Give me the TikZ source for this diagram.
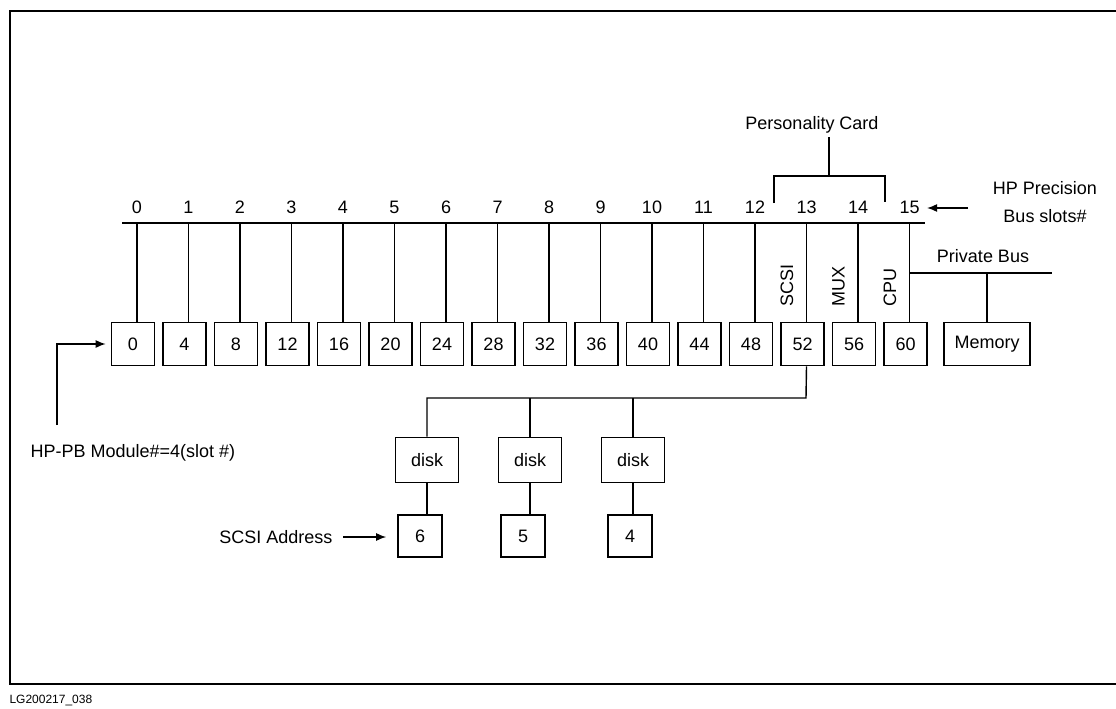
\documentclass[tikz,border=0pt]{standalone}
\usepackage{fontspec}
\setmainfont{Liberation Sans}
\usetikzlibrary{arrows.meta,positioning,calc}

\begin{document}
\begin{tikzpicture}[x=1pt,y=-1pt,
    font=\fontsize{18}{28}\selectfont,
    ln/.style={line width=1.4pt},
    bx/.style={draw,line width=1.6pt,minimum width=43pt,minimum height=43pt,inner sep=0pt},
    dk/.style={bx,minimum width=63pt,minimum height=45pt},
    a/.style={ln,-{Latex[length=10pt,width=8pt]}}]
    \useasboundingbox (0,0) rectangle (1116,709);
    \draw[line width=2pt] (1120,11) -- (10,11) -- (10,684) -- (1120,684);
    \node[anchor=west,font=\fontsize{12}{14}\selectfont] (fig) at (6,700) {LG200217\_038};
    % bus and slots
    \coordinate (busL) at (122,223);
    \coordinate (busR) at (925,223);
    \draw[ln] (busL) -- (busR);
    \foreach \i in {0,...,15}{
      \coordinate (s\i) at (137+51.5*\i,223);
      \node[anchor=base] (n\i) at ([yshift=10pt]s\i) {\i};
      \pgfmathtruncatemacro\m{4*\i}
      \node[bx] (m\i) at (133+51.5*\i,344) {\m};
      \draw[ln] (s\i) -- (s\i |- m\i.north);
    }
    \foreach \t/\i in {SCSI/13,MUX/14,CPU/15}
      \node[rotate=90,anchor=west] at ($(s\i)+(-19.5,87)$) {\t};
    % personality card
    \node (pc) at (812,125) {Personality Card};
    \coordinate (pcL) at (774,203);
    \coordinate (pcT) at (829,176);
    \coordinate (pcR) at (885,202);
    \draw[ln] (pcL) |- (pcT) -| (pcR);
    \draw[ln] (pcT) -- (pc.south -| pcT);
    \node[align=center] (hpb) at (1045,202) {HP Precision\\Bus slots\#};
    \coordinate (hpa) at (968,208);
    \draw[a,shorten >=4pt] (hpa) -- (hpa -| n15.east);
    % private bus
    \node[bx,minimum width=86pt] (mem) at (987,344) {Memory};
    \node (pbt) at (983,256) {Private Bus};
    \coordinate (pbL) at (909,273);
    \coordinate (pbR) at (1052,273);
    \draw[ln] (pbL) -- (pbR);
    \draw[ln] (mem.north |- pbL) -- (mem.north);
    % module label
    \node[anchor=west] (hpm) at (27,453) {HP-PB Module\#=4(slot \#)};
    \coordinate (hma) at (57,425);
    \draw[a,shorten >=5pt] (hma) |- (m0.west);
    % scsi chain
    \foreach \j/\x in {1/427,2/530,3/633}
      \node[dk] (d\j) at (\x,460) {disk};
    \foreach \j/\x/\v in {1/420/6,2/523/5,3/630/4}{
      \node[bx,minimum width=44pt,minimum height=42pt] (a\j) at (\x,536) {\v};
      \draw[ln] (d\j) -- (d\j |- a\j.north);
    }
    \coordinate (sb) at (806,398);
    \draw[ln] (m13.south -| s13) -- (sb) -| (d1);
    \draw[ln] (sb -| d2) -- (d2);
    \draw[ln] (sb -| d3) -- (d3);
    \node[anchor=east] (sa) at (336,537) {SCSI Address};
    \draw[a,shorten <=7pt,shorten >=11pt] (sa.east) -- (sa.east -| a1.west);
  \end{tikzpicture}
\end{document}
